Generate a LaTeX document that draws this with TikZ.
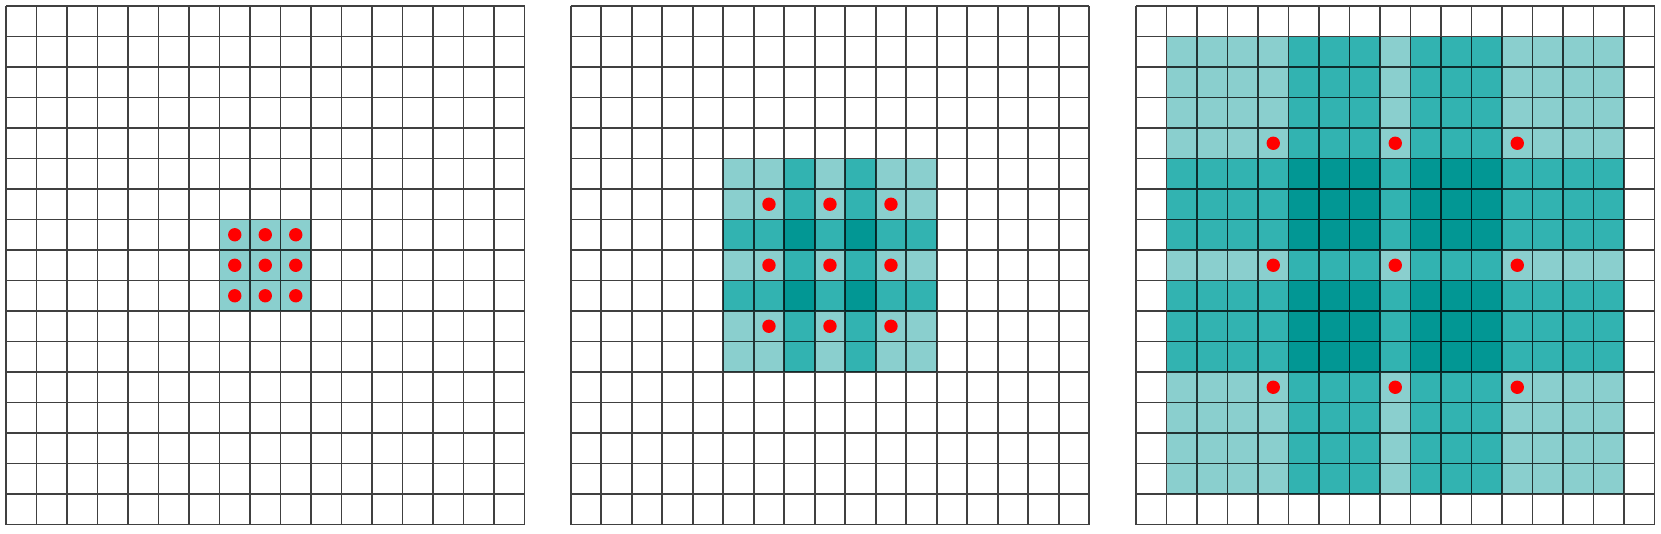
\documentclass[tikz,border=0pt]{standalone}
\definecolor{lightteal}{RGB}{138,207,206}
\definecolor{midteal}{RGB}{50,179,177}
\definecolor{darkteal}{RGB}{2,151,148}
\tikzset{
    lvl1/.style={fill=lightteal},
    lvl2/.style={fill=midteal},
    lvl4/.style={fill=darkteal},
    gridline/.style={black,opacity=0.75,line width=1.6pt},
    reddot/.style={fill=red}
}
\begin{document}
\begin{tikzpicture}[x=1pt,y=-1pt]
    \fill[white] (0,0) rectangle (1661,533);
    \useasboundingbox (0,0) rectangle (1661,533);
    % rate 1
    \begin{scope}[shift={(6,6)},x=30.5pt,y=-30.5pt]
        \foreach \i in {7,8,9}
            \foreach \j in {7,8,9}
                \fill[lvl1] (\i,\j) rectangle (\i+1,\j+1);
        \draw[gridline] \foreach \k in {0,...,17} {(\k,0) -- (\k,17) (0,\k) -- (17,\k)};
        \foreach \i in {7,8,9}
            \foreach \j in {7,8,9}
                \fill[reddot] (\i+0.5,\j+0.5) circle (6.7pt);
    \end{scope}
    % rate 2
    \begin{scope}[shift={(570.7,6)},x=30.5pt,y=-30.5pt]
        \foreach \a [count=\i from 5] in {1,1,2,1,2,1,1}
            \foreach \b [count=\j from 5] in {1,1,2,1,2,1,1} {
                \pgfmathtruncatemacro\p{\a*\b}
                \fill[lvl\p] (\i,\j) rectangle (\i+1,\j+1);
            }
        \draw[gridline] \foreach \k in {0,...,17} {(\k,0) -- (\k,17) (0,\k) -- (17,\k)};
        \foreach \i in {6,8,10}
            \foreach \j in {6,8,10}
                \fill[reddot] (\i+0.5,\j+0.5) circle (6.7pt);
    \end{scope}
    % rate 4
    \begin{scope}[shift={(1136,6)},x=30.5pt,y=-30.5pt]
        \foreach \a [count=\i from 1] in {1,1,1,1,2,2,2,1,2,2,2,1,1,1,1}
            \foreach \b [count=\j from 1] in {1,1,1,1,2,2,2,1,2,2,2,1,1,1,1} {
                \pgfmathtruncatemacro\p{\a*\b}
                \fill[lvl\p] (\i,\j) rectangle (\i+1,\j+1);
            }
        \draw[gridline] \foreach \k in {0,...,17} {(\k,0) -- (\k,17) (0,\k) -- (17,\k)};
        \foreach \i in {4,8,12}
            \foreach \j in {4,8,12}
                \fill[reddot] (\i+0.5,\j+0.5) circle (6.7pt);
    \end{scope}
\end{tikzpicture}
\end{document}
